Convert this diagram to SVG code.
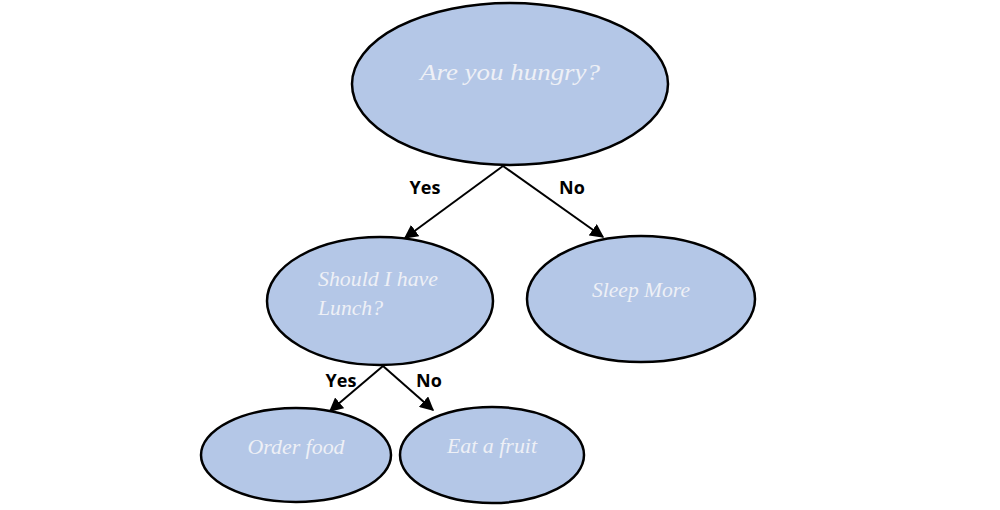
<svg xmlns="http://www.w3.org/2000/svg" width="1000" height="510" viewBox="0 0 1000 510">
<defs>
<marker id="ah" viewBox="0 0 10 10" refX="9" refY="5" markerWidth="7" markerHeight="7" orient="auto" markerUnits="strokeWidth">
<path d="M0,0 L10,5 L0,10 z" fill="#000"/>
</marker>
<style>
.node{fill:#b4c7e7;stroke:#000;stroke-width:2.5}
.t{font-family:"Liberation Serif","DejaVu Serif",serif;font-style:italic;fill:#eef0f6}
.lbl{font-family:"Open Sans","Liberation Sans",sans-serif;font-weight:bold;font-size:18px;fill:#000}
.c{stroke:#000;stroke-width:2;fill:none;marker-end:url(#ah)}
</style>
</defs>
<rect width="1000" height="510" fill="#fff"/>
<g id="connectors">
<line class="c" x1="503" y1="166" x2="405" y2="238"/>
<line class="c" x1="503" y1="166" x2="603" y2="237"/>
<line class="c" x1="383" y1="366" x2="330" y2="411"/>
<line class="c" x1="383" y1="366" x2="433" y2="410"/>
<text class="lbl" x="425" y="194" text-anchor="middle">Yes</text>
<text class="lbl" x="572" y="194" text-anchor="middle">No</text>
<text class="lbl" x="341" y="387" text-anchor="middle">Yes</text>
<text class="lbl" x="429" y="387" text-anchor="middle">No</text>
</g>
<g id="n-hungry">
<ellipse class="node" cx="510" cy="84" rx="158" ry="81"/>
<text class="t" x="510" y="80" text-anchor="middle" font-size="24" textLength="180" lengthAdjust="spacingAndGlyphs">Are you hungry?</text>
</g>
<g id="n-lunch">
<ellipse class="node" cx="380" cy="301" rx="113" ry="64"/>
<text class="t" x="318" y="286" font-size="20" textLength="120" lengthAdjust="spacingAndGlyphs">Should I have</text>
<text class="t" x="318" y="315" font-size="20" textLength="65" lengthAdjust="spacingAndGlyphs">Lunch?</text>
</g>
<g id="n-sleep">
<ellipse class="node" cx="641" cy="299" rx="114" ry="63"/>
<text class="t" x="641" y="297" text-anchor="middle" font-size="20" textLength="98" lengthAdjust="spacingAndGlyphs">Sleep More</text>
</g>
<g id="n-order">
<ellipse class="node" cx="296" cy="455" rx="95" ry="47"/>
<text class="t" x="296" y="454" text-anchor="middle" font-size="20" textLength="97" lengthAdjust="spacingAndGlyphs">Order food</text>
</g>
<g id="n-fruit">
<ellipse class="node" cx="492" cy="455" rx="92" ry="48"/>
<text class="t" x="492" y="453" text-anchor="middle" font-size="20" textLength="90" lengthAdjust="spacingAndGlyphs">Eat a fruit</text>
</g>
</svg>
